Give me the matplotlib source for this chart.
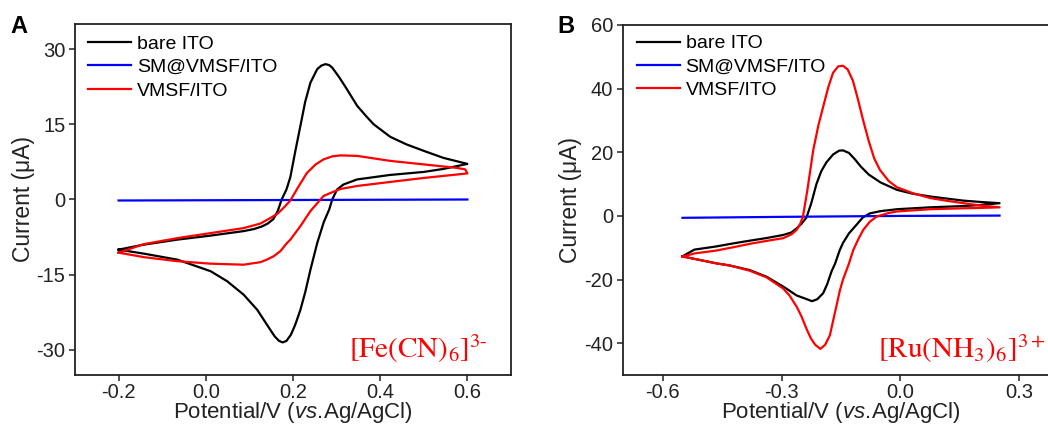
import matplotlib
matplotlib.use("Agg")
import matplotlib.pyplot as plt

# ---------------- Data ----------------
# Panel A : [Fe(CN)6]3-
A_bare_x = [-0.2, -0.142, -0.065, 0.011, 0.087, 0.11, 0.128, 0.142, 0.155, 0.165, 0.174, 0.185, 0.194,
            0.205, 0.217, 0.228, 0.240, 0.2555, 0.265, 0.2745, 0.283, 0.29, 0.305, 0.32, 0.347, 0.369,
            0.385, 0.423, 0.46, 0.5, 0.545, 0.6,
            0.545, 0.5, 0.423, 0.347, 0.316, 0.301, 0.29, 0.283, 0.2706, 0.2555, 0.240,
            0.228, 0.217, 0.205, 0.195, 0.185, 0.1766, 0.168, 0.158, 0.148, 0.133, 0.118, 0.087, 0.049, 0.011,
            -0.065, -0.142, -0.2]
A_bare_y = [-10.0, -9.0, -8.0, -7.2, -6.3, -5.9, -5.4, -4.8, -3.9, -2.3, 0.0, 2.0, 4.5,
            9.5, 14.7, 19.5, 23.3, 26.0, 26.7, 27.0, 26.8, 26.3, 24.5, 22.5, 18.7, 16.5,
            15.0, 12.5, 11.0, 9.7, 8.3, 7.1,
            6.1, 5.5, 4.9, 4.0, 3.0, 2.0, 0.0, -2.0, -4.5, -8.7, -14.0,
            -18.5, -22.0, -25.0, -27.0, -28.2, -28.5, -28.2, -27.3, -26.0, -24.0, -22.0, -19.0, -16.3, -14.3,
            -12.0, -10.8, -10.0]

A_sm_x = [-0.2, 0.2, 0.6]
A_sm_y = [-0.2, -0.1, 0.0]

A_vmsf_x = [-0.2, -0.142, -0.065, 0.011, 0.087, 0.125, 0.148, 0.165, 0.178, 0.194, 0.212, 0.232,
            0.252, 0.270, 0.290, 0.309, 0.347, 0.385, 0.423, 0.5, 0.576, 0.595, 0.6,
            0.5, 0.423, 0.347, 0.309, 0.286, 0.270, 0.255, 0.240, 0.217, 0.194, 0.186,
            0.171, 0.156, 0.14, 0.125, 0.087, 0.011, -0.065, -0.142, -0.2]
A_vmsf_y = [-10.6, -8.9, -7.7, -6.7, -5.7, -4.8, -3.7, -2.8, -1.7, -0.2, 2.5, 5.3,
            7.0, 8.0, 8.6, 8.8, 8.7, 8.2, 7.7, 7.0, 6.3, 6.0, 5.2,
            4.3, 3.5, 2.7, 2.1, 1.3, 0.7, -0.8, -2.3, -5.3, -8.0, -8.7,
            -10.3, -11.3, -12.0, -12.5, -13.0, -12.8, -12.3, -11.5, -10.6]

# Panel B : [Ru(NH3)6]3+
B_bare_x = [-0.55, -0.52, -0.465, -0.42, -0.381, -0.34, -0.296, -0.275, -0.262, -0.25,
            -0.237, -0.225, -0.212, -0.2, -0.187, -0.17, -0.155, -0.145, -0.13, -0.115,
            -0.1, -0.08, -0.05, -0.009, 0.03, 0.075, 0.12, 0.159, 0.2, 0.25,
            0.2, 0.159, 0.075, -0.009, -0.05, -0.077, -0.095, -0.111, -0.13, -0.145,
            -0.153, -0.165, -0.174, -0.185, -0.195, -0.21, -0.223, -0.24, -0.262, -0.28,
            -0.296, -0.338, -0.381, -0.43, -0.465, -0.52, -0.55]
B_bare_y = [-12.7, -10.6, -9.6, -8.6, -7.8, -7.0, -6.0, -5.2, -3.9, -2.5,
            -0.5, 4.0, 10.0, 14.0, 16.8, 19.3, 20.5, 20.6, 19.8, 17.8,
            15.5, 13.0, 10.5, 8.2, 7.0, 6.1, 5.4, 4.8, 4.4, 4.0,
            3.4, 3.1, 2.7, 2.1, 1.5, 0.8, -0.5, -2.8, -5.5, -8.5,
            -10.7, -15.0, -17.5, -21.5, -24.3, -26.2, -26.8, -26.0, -25.0, -23.5,
            -22.2, -19.1, -17.0, -15.6, -14.9, -13.5, -12.7]

B_sm_x = [-0.55, -0.3, 0.0, 0.25]
B_sm_y = [-0.6, -0.3, 0.0, 0.1]

B_vmsf_x = [-0.55, -0.52, -0.465, -0.42, -0.381, -0.34, -0.296, -0.275, -0.262, -0.253,
            -0.246, -0.235, -0.22, -0.207, -0.195, -0.182, -0.17, -0.157, -0.145, -0.133,
            -0.12, -0.108, -0.094, -0.08, -0.066, -0.052, -0.03, -0.009, 0.03, 0.075,
            0.12, 0.159, 0.2, 0.25,
            0.2, 0.159, 0.075, -0.009, -0.03, -0.06, -0.077, -0.094, -0.107, -0.119,
            -0.13, -0.145, -0.153, -0.161, -0.17, -0.178, -0.19, -0.202, -0.215, -0.226,
            -0.237, -0.25, -0.262, -0.28, -0.296, -0.338, -0.381, -0.43, -0.465, -0.52, -0.55]
B_vmsf_y = [-12.8, -11.8, -10.9, -9.8, -8.8, -7.9, -7.0, -5.8, -4.4, -2.5,
            -0.2, 8.0, 20.7, 28.5, 34.3, 40.5, 45.0, 47.0, 47.2, 46.0,
            42.5, 37.0, 30.0, 23.5, 18.0, 14.5, 11.0, 9.0, 7.2, 5.6,
            4.7, 4.0, 3.3, 2.7,
            2.5, 2.4, 2.1, 1.4, 0.9, -0.2, -1.8, -4.4, -7.5, -10.7,
            -15.0, -20.0, -23.5, -28.0, -33.0, -37.5, -40.5, -41.8, -40.5, -38.5,
            -35.5, -31.5, -28.5, -25.0, -22.8, -19.3, -17.2, -15.6, -14.9, -13.5, -12.8]

labels = ["bare ITO", "SM@VMSF/ITO", "VMSF/ITO"]
colors = ["#000000", "#0000ff", "#ff0000"]

A_xticks = [-0.2, 0.0, 0.2, 0.4, 0.6]
A_yticks = [-30, -15, 0, 15, 30]
B_xticks = [-0.6, -0.3, 0.0, 0.3]
B_yticks = [-40, -20, 0, 20, 40, 60]

# ---------------- Styling ----------------
plt.rcParams['font.family'] = ['Liberation Sans', 'DejaVu Sans']
plt.rcParams['mathtext.fontset'] = 'custom'
plt.rcParams['mathtext.rm'] = 'Liberation Sans'
plt.rcParams['mathtext.it'] = 'Liberation Sans:italic'
plt.rcParams['mathtext.bf'] = 'Liberation Sans:bold'

W, H = 1048, 425
fig = plt.figure(figsize=(W / 100, H / 100), dpi=100)

def px_axes(l, t, r, b):
    return [l / W, 1 - b / H, (r - l) / W, (b - t) / H]

axA = fig.add_axes(px_axes(75, 24, 511, 375))
axB = fig.add_axes(px_axes(623, 25, 1059, 375))

def style(ax, xlim, ylim, xt, yt, xfmt):
    ax.set_xlim(*xlim)
    ax.set_ylim(*ylim)
    ax.set_xticks(xt)
    ax.set_yticks(yt)
    ax.set_xticklabels([xfmt(v) for v in xt])
    ax.set_yticklabels([str(v) for v in yt])
    for s in ax.spines.values():
        s.set_linewidth(1.3)
        s.set_color('#222222')
    ax.tick_params(direction='out', length=4, width=1.1, labelsize=14.5,
                   colors='#222222', pad=3)
    ax.tick_params(axis='x', pad=2)
    ax.set_xlabel(r'Potential/V ($\it{vs.}\!$Ag/AgCl)', fontsize=16, color='#222222')
    ax.set_ylabel('Current (μA)', fontsize=16.5, color='#222222')

style(axA, (-0.3, 0.7), (-35, 35), A_xticks, A_yticks, lambda v: f"{v:.1f}")
style(axB, (-0.7, 0.4), (-50, 60), B_xticks, B_yticks, lambda v: f"{v:.1f}")

lw = 1.6
for ax, data in [(axA, [(A_bare_x, A_bare_y), (A_sm_x, A_sm_y), (A_vmsf_x, A_vmsf_y)]),
                 (axB, [(B_bare_x, B_bare_y), (B_sm_x, B_sm_y), (B_vmsf_x, B_vmsf_y)])]:
    for (x, y), lab, c in zip(data, labels, colors):
        ax.plot(x, y, color=c, lw=lw, label=lab, solid_joinstyle='round')

for ax, anchor in [(axA, (0.03, 0.968)), (axB, (0.032, 0.972))]:
    ax.legend(loc='upper left', bbox_to_anchor=anchor, frameon=False, fontsize=14,
              handlelength=2.2, handletextpad=0.3, labelspacing=0.3,
              borderpad=0, borderaxespad=0)

axA.yaxis.set_label_coords(-0.092, 0.5)
axB.yaxis.set_label_coords(-0.094, 0.5)
axA.xaxis.set_label_coords(0.5, -0.072)
axB.xaxis.set_label_coords(0.5, -0.072)

axA.text(0.947, 0.048, r'$\mathrm{[Fe(CN)_6]^{3\text{-}}}$', transform=axA.transAxes,
         ha='right', va='baseline', fontsize=21, color='#ff0000', math_fontfamily='stix')
axB.text(0.585, 0.048, r'$\mathrm{[Ru(NH_3)_6]^{3+}}$', transform=axB.transAxes,
         ha='left', va='baseline', fontsize=21, color='#ff0000', math_fontfamily='stix')

fig.text(10 / W, 1 - 15 / H, 'A', fontsize=17, fontweight='bold', va='top', ha='left')
fig.text(557 / W, 1 - 15 / H, 'B', fontsize=17, fontweight='bold', va='top', ha='left')

fig.savefig('out.png', dpi=100)
